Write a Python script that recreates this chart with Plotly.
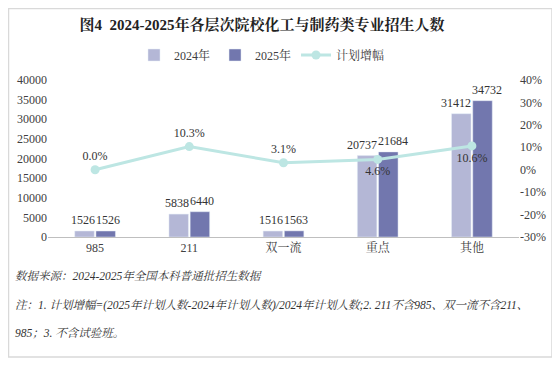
import plotly.graph_objects as go

categories = ["985", "211", "双一流", "重点", "其他"]
values_2024 = [1526, 5838, 1516, 20737, 31412]
values_2025 = [1526, 6440, 1563, 21684, 34732]
growth_pct = [0.0, 10.3, 3.1, 4.6, 10.6]
growth_pos = ["top center", "top center", "top center", "bottom center", "bottom center"]
right_ticks = [-30, -20, -10, 0, 10, 20, 30, 40]

# The page body adds an 8px margin, so the figure is laid out in page pixels minus 8.
OFF = 8
W, H = 560 - OFF, 366 - OFF
PL, PR, PT, PB = 48, 519, 80, 237          # plot area in page pixels
L, R, T, B = PL - OFF, W - (PR - OFF), PT - OFF, H - (PB - OFF)
PW, PH = W - L - R, H - T - B

def px(x):
    return (x - OFF - L) / PW

def py(y):
    return (H - B - (y - OFF)) / PH

SERIF = "Liberation Serif, Noto Serif CJK SC, Noto Sans CJK SC, serif"
BARGAP, GROUPGAP = 0.55, 0.08
cat_px = PW / len(categories)
bar_off = cat_px * (1 - BARGAP) / 4          # centre offset of each bar in a group

fig = go.Figure()
fig.add_trace(go.Bar(
    x=categories, y=values_2024, name="2024年",
    marker_color="#b4b7d6",
))
fig.add_trace(go.Bar(
    x=categories, y=values_2025, name="2025年",
    marker_color="#7277ae",
))
fig.add_trace(go.Scatter(
    x=categories, y=[g / 100 for g in growth_pct], name="计划增幅",
    yaxis="y2", mode="lines+markers+text",
    line=dict(color="#bde6e3", width=3),
    marker=dict(color="#bde6e3", size=9),
    text=[f"{g:.1f}%" for g in growth_pct], textposition=growth_pos,
    textfont=dict(size=12, color="#333333", family=SERIF),
    cliponaxis=False,
))

# bar value labels (category index on the x axis), nudged apart like the original
for series, sign in ((values_2024, -1), (values_2025, 1)):
    for i, v in enumerate(series):
        txt = str(v)
        spread = max(0.0, (len(txt) * 6 - 20) / 2)
        fig.add_annotation(
            x=i, y=v, xref="x", yref="y", text=txt, showarrow=False,
            xanchor="center", yanchor="bottom", yshift=2,
            xshift=sign * (bar_off + spread),
            font=dict(size=12, color="#333333", family=SERIF),
        )

fig.update_layout(
    width=W, height=H,
    margin=dict(l=L, r=R, t=T, b=B, autoexpand=False),
    paper_bgcolor="white", plot_bgcolor="white",
    barmode="group", bargap=BARGAP, bargroupgap=GROUPGAP,
    font=dict(family=SERIF, size=12, color="#404040"),
    title=dict(
        text="<b>图4  2024-2025年各层次院校化工与制药类专业招生人数</b>",
        x=(262 - OFF) / W, xref="container", xanchor="center",
        y=1 - (25 - OFF) / H, yanchor="middle",
        font=dict(size=15, color="#222222", family=SERIF),
    ),
    legend=dict(
        orientation="h", x=(262 - OFF) / W, xref="container", xanchor="center",
        y=1 - (55 - OFF) / H, yref="container", yanchor="middle",
        font=dict(size=12, color="#404040", family=SERIF),
        itemwidth=30,
    ),
    xaxis=dict(
        type="category", categoryorder="array", categoryarray=categories,
        range=[-0.5, len(categories) - 0.5],
        showline=True, linecolor="#bfbfbf", linewidth=1,
        ticks="", showgrid=False, automargin=False,
        tickfont=dict(size=12, color="#404040", family=SERIF),
    ),
    yaxis=dict(
        range=[0, 40000], dtick=5000, tickformat="d", showgrid=False, zeroline=False,
        tickfont=dict(size=12, color="#404040", family=SERIF),
        ticks="", automargin=False,
    ),
    yaxis2=dict(
        overlaying="y", side="right", range=[-0.3, 0.4],
        tickvals=[t / 100 for t in right_ticks],
        ticktext=[f"{t}%" for t in right_ticks],
        showgrid=False, zeroline=False, automargin=False,
        tickfont=dict(size=12, color="#404040", family=SERIF),
    ),
)

footer = [
    (276, "数据来源：2024-2025年全国本科普通批招生数据"),
    (305, "注：1. 计划增幅=(2025年计划人数-2024年计划人数)/2024年计划人数;2. 211不含985、双一流不含211、"),
    (333, "985；3. 不含试验班。"),
]
for ypix, txt in footer:
    fig.add_annotation(
        text=f"<i>{txt}</i>", xref="paper", yref="paper",
        x=px(13), y=py(ypix), xanchor="left", yanchor="middle",
        showarrow=False, font=dict(size=11.5, color="#333333", family=SERIF),
    )

fig.add_shape(
    type="rect", xref="paper", yref="paper",
    x0=px(OFF + 0.5), x1=px(552), y0=py(357), y1=py(OFF + 0.5),
    line=dict(color="#d9d9d9", width=1.5), layer="below",
)

fig.write_html("out.html")
